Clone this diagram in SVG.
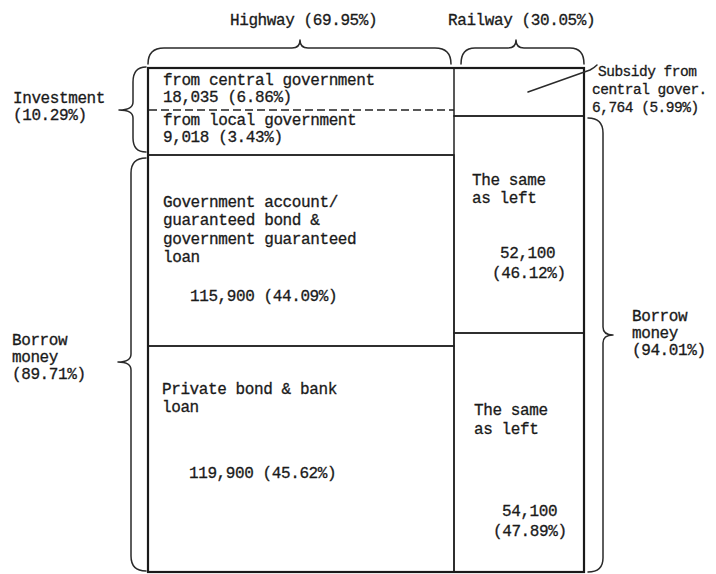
<svg xmlns="http://www.w3.org/2000/svg" width="716" height="574" viewBox="0 0 716 574">
<style>
text{font-family:"Liberation Mono","DejaVu Sans Mono",monospace;font-size:16px;letter-spacing:-0.4px;fill:#1a1a1a;stroke:#1a1a1a;stroke-width:0.3}
.sub{font-size:14.5px;letter-spacing:-0.5px}
.cell{fill:none;stroke:#222;stroke-width:1.5}
.outer{fill:none;stroke:#1a1a1a;stroke-width:2.2}
.brace{fill:none;stroke:#2a2a2a;stroke-width:1.5;stroke-linejoin:round;stroke-linecap:round}
.dash{stroke:#222;stroke-width:1.5;stroke-dasharray:8 4}
</style>
<rect width="716" height="574" fill="#ffffff"/>
<g id="headers">
<text x="230" y="25">Highway (69.95%)</text>
<text x="448" y="25">Railway (30.05%)</text>
</g>
<g id="side-labels">
<text x="13" y="103">Investment</text>
<text x="13" y="120">(10.29%)</text>
<text x="12" y="345">Borrow</text>
<text x="12" y="362">money</text>
<text x="12" y="379">(89.71%)</text>
<text x="632" y="321">Borrow</text>
<text x="632" y="338">money</text>
<text x="632" y="355">(94.01%)</text>
<text class="sub" x="598" y="76">Subsidy from</text>
<text class="sub" x="592" y="94">central gover.</text>
<text class="sub" x="592" y="112">6,764 (5.99%)</text>
</g>
<g id="hw-central">
<text x="163" y="85">from central government</text>
<text x="163" y="102">18,035 (6.86%)</text>
</g>
<g id="hw-local">
<text x="163" y="125">from local government</text>
<text x="163" y="142">9,018 (3.43%)</text>
</g>
<g id="hw-govt">
<rect class="cell" x="148" y="155" width="306" height="191"/>
<text x="163" y="207">Government account/</text>
<text x="163" y="225">guaranteed bond &amp;</text>
<text x="163" y="244">government guaranteed</text>
<text x="163" y="262">loan</text>
<text x="190" y="301">115,900 (44.09%)</text>
</g>
<g id="hw-private">
<rect class="cell" x="148" y="346" width="306" height="226"/>
<text x="162" y="394">Private bond &amp; bank</text>
<text x="162" y="412">loan</text>
<text x="189" y="478">119,900 (45.62%)</text>
</g>
<g id="rw-subsidy">
<rect class="cell" x="454" y="68" width="130" height="48"/>
</g>
<g id="rw-govt">
<rect class="cell" x="454" y="116" width="130" height="217"/>
<text x="472" y="185">The same</text>
<text x="472" y="203">as left</text>
<text x="500" y="258">52,100</text>
<text x="492" y="278">(46.12%)</text>
</g>
<g id="rw-private">
<rect class="cell" x="454" y="333" width="130" height="239"/>
<text x="474" y="415">The same</text>
<text x="474" y="434">as left</text>
<text x="502" y="516">54,100</text>
<text x="493" y="536">(47.89%)</text>
</g>
<g id="frame">
<line class="dash" x1="149" y1="110" x2="454" y2="110"/>
<line class="cell" x1="148" y1="155" x2="454" y2="155"/>
<rect class="outer" x="148" y="68" width="436" height="504"/>
</g>
<g id="connectors">
<path class="brace" d="M148,64 Q148,48 164,48 L292,48 Q300,48 300,40 Q300,48 308,48 L435,48 Q451,48 451,64"/>
<path class="brace" d="M461,64 Q461,48 475,48 L508,48 Q516,48 516,40 Q516,48 524,48 L570,48 Q584,48 584,64"/>
<path class="brace" d="M146,67 Q133,67 133,82 L133,102 Q133,110 119,110 Q133,110 133,118 L133,138 Q133,152 146,152"/>
<path class="brace" d="M146,158 Q131,158 131,173 L131,354 Q131,362 118,362 Q131,362 131,370 L131,556 Q131,571 146,571"/>
<path class="brace" d="M588,118 Q603,118 603,133 L603,327 Q603,335 613,335 Q603,335 603,343 L603,558 Q603,572 588,572"/>
<path class="brace" d="M528,92 L590,70 Q594,68 597,65"/>
</g>
</svg>
